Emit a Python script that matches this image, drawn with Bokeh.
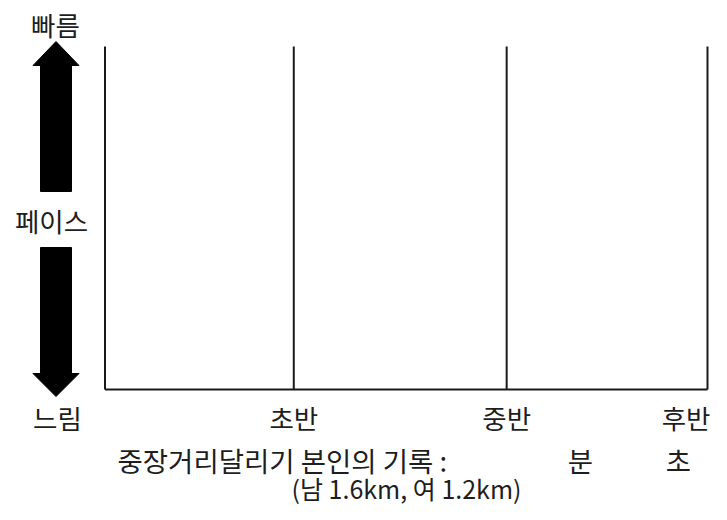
from bokeh.plotting import figure
from bokeh.models import Range1d
from bokeh.core.properties import value
from bokeh.embed import file_html
from bokeh.resources import INLINE

# ---- chart content ----
phases = ["초반", "중반", "후반"]
phase_pos = [0.94, 2.0, 3.0]          # phase boundaries (race start = 0)
pace_labels = ["빠름", "페이스", "느림"]  # fast / pace / slow
record_line = "중장거리달리기 본인의 기록 :"
record_units = ["분", "초"]
distance_note = "(남 1.6km, 여 1.2km)"

# ---- layout (canvas pixels) ----
W, H = 711, 504
X0, X3 = 104.5, 707.0     # canvas x of race start and of the last boundary
Y0, Y1 = 389.0, 46.0      # canvas y (from top) of slow baseline and of the top
SX = (X3 - X0) / phase_pos[-1]
SY = (Y0 - Y1) / 1.0

def dx(px):
    return (px - X0) / SX

def dy(py):
    return (Y0 - py) / SY

FONT = value("Noto Sans CJK KR")
TXT = "#1e1e1e"

p = figure(width=W, height=H, output_backend="svg", toolbar_location=None,
           x_axis_type=None, y_axis_type=None, min_border=0,
           x_range=Range1d(-X0 / SX, (W - X0) / SX),
           y_range=Range1d((Y0 - H) / SY, Y0 / SY),
           background_fill_color="white", border_fill_color="white")
p.grid.visible = False
p.outline_line_color = None

# grid lines of the worksheet
xs = [0.0] + phase_pos
p.segment(x0=xs, y0=[0.0] * len(xs), x1=xs, y1=[1.0] * len(xs),
          line_color="#1a1a1a", line_width=2)
p.segment(x0=[0.0], y0=[0.0], x1=[phase_pos[-1]], y1=[0.0],
          line_color="#1a1a1a", line_width=2)

# double arrow (pace axis)
cx, hw, sw = 55.5, 23.0, 15.5
up = [(cx, 41), (cx + hw, 65), (cx + sw, 65), (cx + sw, 191),
      (cx - sw, 191), (cx - sw, 65), (cx - hw, 65)]
down = [(cx, 396), (cx + hw, 373), (cx + sw, 373), (cx + sw, 247),
        (cx - sw, 247), (cx - sw, 373), (cx - hw, 373)]
for poly in (up, down):
    p.patch([dx(a) for a, b in poly], [dy(b) for a, b in poly],
            fill_color="black", line_color="black", line_width=1)

# pace labels
p.text(x=[dx(55), dx(51), dx(57)], y=[dy(24), dy(220), dy(417)], text=pace_labels,
       text_font=FONT, text_font_size="26.5px", text_color=TXT,
       text_align="center", text_baseline="middle")

# phase labels (last one kept inside the right edge)
p.text(x=phase_pos[:2] + [dx(710)], y=[dy(417)] * 3, text=phases,
       text_font=FONT, text_font_size="26.5px", text_color=TXT,
       text_align=["center", "center", "right"], text_baseline="middle")

# record line
p.text(x=[dx(117)], y=[dy(459)], text=[record_line],
       text_font=FONT, text_font_size="27.5px", text_color=TXT,
       text_align="left", text_baseline="middle")
p.text(x=[dx(580), dx(678)], y=[dy(459)] * 2, text=record_units,
       text_font=FONT, text_font_size="27.5px", text_color=TXT,
       text_align="center", text_baseline="middle")
p.text(x=[dx(406)], y=[dy(487)], text=[distance_note],
       text_font=FONT, text_font_size="25px", text_color=TXT,
       text_align="center", text_baseline="middle")

open("out.html", "w").write(file_html(p, INLINE))
